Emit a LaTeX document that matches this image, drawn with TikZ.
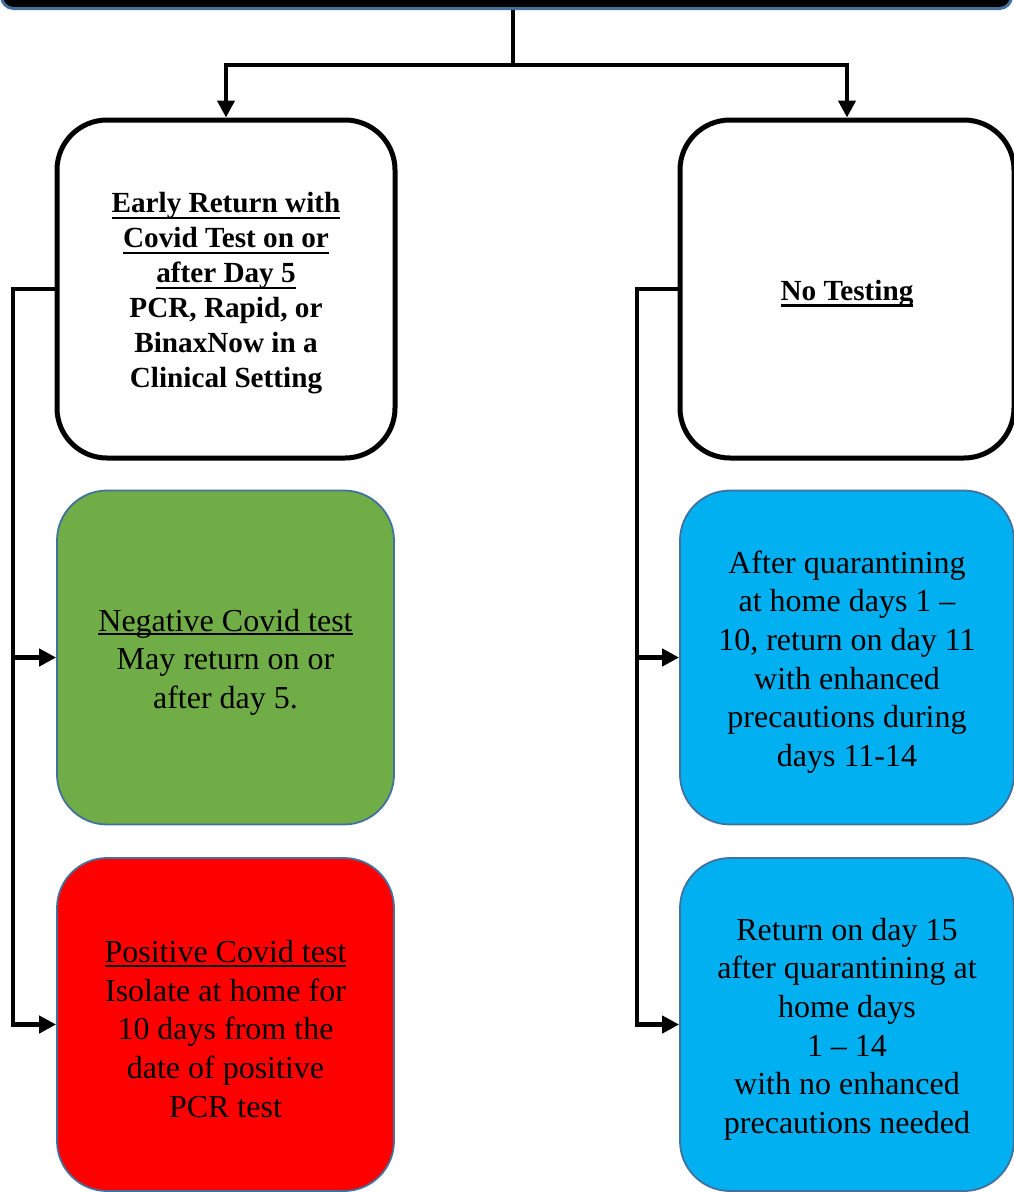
\documentclass[tikz,border=0pt]{standalone}
\usepackage{fontspec}
\setmainfont{Liberation Serif}
\usetikzlibrary{arrows.meta}
\definecolor{okgreen}{HTML}{70AD47}
\definecolor{okred}{HTML}{FF0000}
\definecolor{okblue}{HTML}{00B0F0}
\definecolor{okedge}{HTML}{41719C}
\newcommand\ulb[1]{\setbox0\hbox{#1}\rlap{\rule[-6.5pt]{\wd0}{2.4pt}}\box0}
\newcommand\uln[1]{\setbox0\hbox{#1}\rlap{\rule[-4pt]{\wd0}{1.7pt}}\box0}
\tikzset{
  whitebox/.style={draw=black, line width=5pt, fill=white, rounded corners=50pt, inner sep=0pt},
  colbox/.style={draw=okedge, line width=1.8pt, rounded corners=50pt, inner sep=0pt,
    minimum width=335pt, minimum height=334pt},
  boldtext/.style={align=center, font=\fontsize{29.2}{35}\selectfont\bfseries, inner sep=0pt, yshift=-4.5pt},
  plaintext/.style={align=center, font=\fontsize{32}{38.6}\selectfont, inner sep=0pt, yshift=-4.5pt},
  conn/.style={line width=4.6pt, draw=black},
  arr/.style={conn, -{Triangle[length=17pt,width=17pt]}},
}
\begin{document}
\begin{tikzpicture}[x=1pt,y=-1pt]
\useasboundingbox (0,0) rectangle (1013,1192);
% top box (cut off)
\node[draw=okedge, fill=black, line width=3pt, rounded corners=12pt,
  minimum width=1010pt, minimum height=80pt, inner sep=0pt] (top) at (506.5,-31.5) {};
% first row
\node[whitebox, minimum width=338pt, minimum height=338pt,
  label={[boldtext, name=earlyt]center:{\ulb{Early Return with}\\\ulb{Covid Test on or}\\\ulb{after Day 5}\\PCR, Rapid, or\\BinaxNow in a\\Clinical Setting}}]
  (early) at (226,289) {};
\node[whitebox, minimum width=334pt, minimum height=338pt,
  label={[boldtext, name=notestt]center:{\ulb{No Testing}}}]
  (notest) at (847,289) {};
% coloured boxes
\node[colbox, fill=okgreen, minimum width=337pt,
  label={[plaintext, name=negt]center:{\uln{Negative Covid test}\\May return on or\\after day 5.}}]
  (neg) at (225.5,657.5) {};
\node[colbox, fill=okred, minimum width=337pt, minimum height=333pt,
  label={[plaintext, name=post]center:{\uln{Positive Covid test}\\Isolate at home for\\10 days from the\\date of positive\\PCR test}}]
  (pos) at (225.5,1024.5) {};
\node[colbox, fill=okblue, minimum width=334pt,
  label={[plaintext, name=q10t]center:{After quarantining\\at home days 1 –\\10, return on day 11\\with enhanced\\precautions during\\days 11-14}}]
  (q10) at (847,657.5) {};
\node[colbox, fill=okblue, minimum width=334pt, minimum height=333pt,
  label={[plaintext, name=q15t]center:{Return on day 15\\after quarantining at\\home days\\1 – 14\\with no enhanced\\precautions needed}}]
  (q15) at (847,1024.5) {};
% connectors
\coordinate (split) at (513,65);
\coordinate (L) at (13,289);
\coordinate (R) at (637,289);
\draw[conn] (top.south -| split) -- (split);
\draw[arr] (split) -| (early.north);
\draw[arr] (split) -| (notest.north);
\draw[arr] (early.west) -- (L) |- (pos.west);
\draw[arr] (L) |- (neg.west);
\draw[arr] (notest.west) -- (R) |- (q15.west);
\draw[arr] (R) |- (q10.west);
\end{tikzpicture}
\end{document}
